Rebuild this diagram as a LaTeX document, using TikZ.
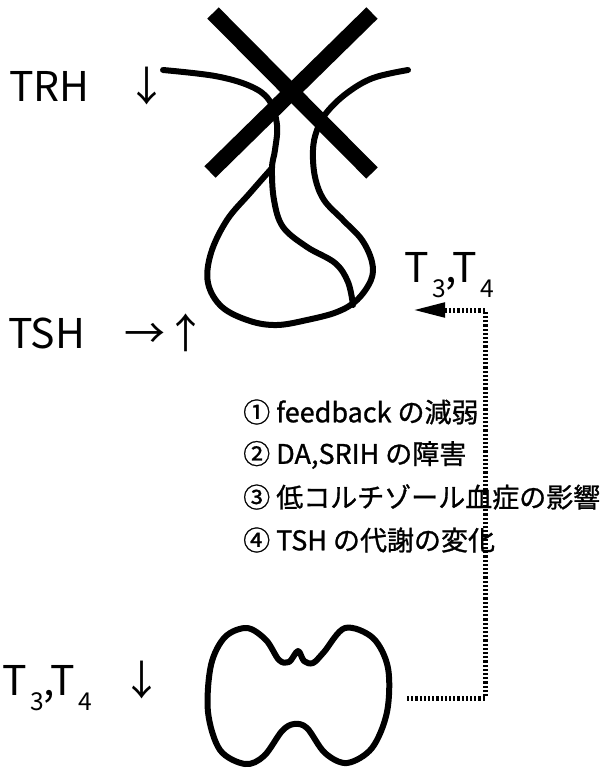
\documentclass[tikz,border=0pt]{standalone}
\usepackage{fontspec}
\setmainfont{Noto Sans CJK JP}
\newfontfamily\listfont[FakeBold=1]{Noto Sans CJK JP}
\usetikzlibrary{arrows.meta}
% subscript set in the running font, hanging below the baseline
\newcommand{\lowidx}[1]{\kern0.08em\raisebox{-0.38em}{\fontsize{0.6em}{0.7em}\selectfont #1}}
\newcommand{\hormones}{T\lowidx{3},T\lowidx{4}}
\begin{document}
\begin{tikzpicture}[x=1pt,y=-1pt,
  big/.style={inner sep=0pt,anchor=base west,font=\fontsize{41}{43}\selectfont},
  item/.style={inner sep=0pt,anchor=west,font=\listfont\fontsize{27}{29}\selectfont},
  organ/.style={line width=6pt,line cap=round,line join=round},
  cross/.style={line width=16pt,line cap=butt},
  fb/.style={line width=5pt,dash pattern=on 2.2pt off 2pt}]
\useasboundingbox (0,0) rectangle (608,769);

% hypothalamus / pituitary outline
\draw[organ] plot[smooth,tension=0.6] coordinates {(163,70) (215,76) (250,86) (269,100) (277,125) (275,150) (272,168)
  (274,200) (283,227) (307,247) (335,263) (348,282) (353,305)};
\draw[organ] plot[smooth,tension=0.6] coordinates {(272,168) (250,193) (227,220) (211,253) (208,283) (222,307) (250,321)
  (277,325) (307,320) (337,312) (357,300) (371,280) (372,262) (362,240) (343,220) (324,200) (315,177) (313,150)
  (317,130) (327,112) (347,93) (373,78) (408,70)};

% blocking cross
\draw[cross] (213,13) -- (372,173);
\draw[cross] (372,13) -- (210,172);

% thyroid
\draw[organ] plot[smooth cycle,tension=0.55] coordinates {(298,651) (304,661) (313,663) (324,652) (345,628)
  (373,638) (388,668) (387,712) (372,748) (347,763) (325,753) (307,728) (294,724) (282,731) (264,756) (245,764)
  (220,750) (208,712) (211,665) (225,637) (247,628) (266,640) (279,660) (289,662)};

% labels
\node[big] (trh) at (9,101) {TRH};
\node[big] (trharr) at (126,101) {↓};
\node[big] (tsh) at (8,348) {TSH};
\node[big] (tsharr) at (124,348) {→};
\node[big] (tshup) at (165,348) {↑};
\node[big] (tup) at (404,282) {\hormones};
\node[big] (tlow) at (2,695) {\hormones};
\node[big] (tlowarr) at (121,695) {↓};

% possible mechanisms
\node[item] (m1) at (243,412) {① feedback の減弱};
\node[item] (m2) at (243,455) {② DA,SRIH の障害};
\node[item] (m3) at (243,497) {③ 低コルチゾール血症の影響};
\node[item] (m4) at (243,540) {④ TSH の代謝の変化};

% feedback path from thyroid to pituitary
\coordinate (fbstart) at (407,698);
\coordinate (fbcorner) at (485,310);
\coordinate (fbend) at (413,310);
\draw[fb,-{Triangle[length=32pt,width=14pt]}] (fbstart) -| (fbcorner) -- (fbend);
\end{tikzpicture}
\end{document}
